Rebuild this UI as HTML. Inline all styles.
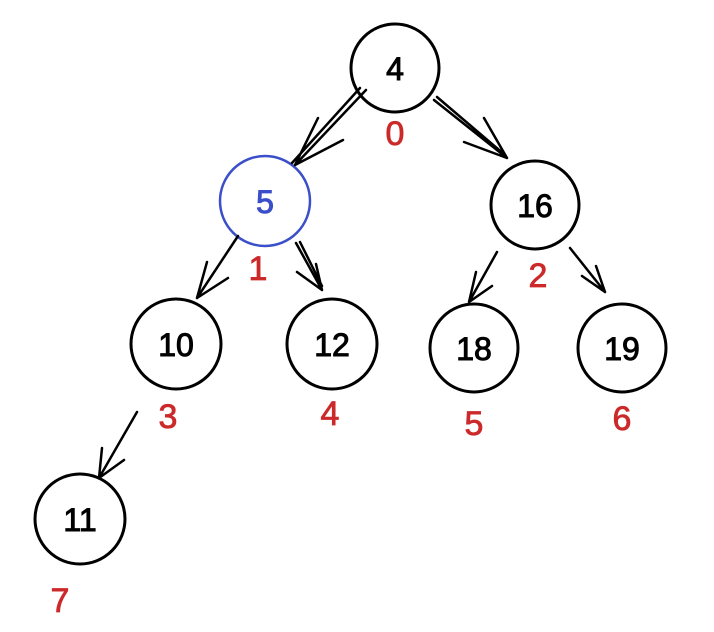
<!DOCTYPE html>
<html><head><style>
html,body{margin:0;padding:0;background:#fff;}
svg{display:block;}
text{font-family:"Liberation Sans",sans-serif;}
</style></head><body>
<svg width="714" height="632" viewBox="0 0 714 632" xmlns="http://www.w3.org/2000/svg">
<g fill="none" stroke="#000" stroke-width="3" stroke-linecap="round">
<circle cx="395" cy="68" r="44"/>
<circle cx="535" cy="205" r="44"/>
<circle cx="176" cy="344" r="45"/>
<circle cx="332" cy="344" r="45"/>
<circle cx="474" cy="348" r="44"/>
<circle cx="622" cy="348" r="44"/>
<circle cx="80" cy="519" r="45"/>
</g>
<circle cx="265" cy="201" r="45" fill="none" stroke="#3a4fc9" stroke-width="2.5"/>
<g fill="none" stroke="#000" stroke-width="2.5" stroke-linecap="round">
<path d="M366 90 L295 165 M360 88 L292 163 M295 165 L318 118 M295 165 L343 140"/>
<path d="M434 100 L507 158 M437 97 L505 155 M507 158 L484 118 M507 158 L464 142"/>
<path d="M238 236 L197 298 M197 298 L207 262 M197 298 L228 278"/>
<path d="M296 243 L322 290 M300 242 L322 286 M322 290 L297 272 M322 290 L316 264"/>
<path d="M497 252 L469 302 M469 302 L476 272 M469 302 L492 286"/>
<path d="M570 248 L605 292 M605 292 L582 276 M605 292 L596 266"/>
<path d="M137 412 L99 478 M99 478 L102 448 M99 478 L124 460"/>
</g>
<g font-size="32" text-anchor="middle" fill="#000" stroke="#000" stroke-width="1">
<text x="395" y="80">4</text>
<text x="535" y="217">16</text>
<text x="176" y="356">10</text>
<text x="332" y="356">12</text>
<text x="474" y="360">18</text>
<text x="622" y="360">19</text>
<text x="80" y="531">11</text>
</g>
<text x="265" y="213" font-size="32" text-anchor="middle" fill="#3a4fc9" stroke="#3a4fc9" stroke-width="1">5</text>
<g font-size="34" text-anchor="middle" fill="#cc2a2a" stroke="#cc2a2a" stroke-width="0.8">
<text x="395" y="145">0</text>
<text x="258" y="280">1</text>
<text x="538" y="287">2</text>
<text x="168" y="428">3</text>
<text x="330" y="425">4</text>
<text x="474" y="435">5</text>
<text x="622" y="430">6</text>
<text x="60" y="612">7</text>
</g>
</svg>
</body></html>
